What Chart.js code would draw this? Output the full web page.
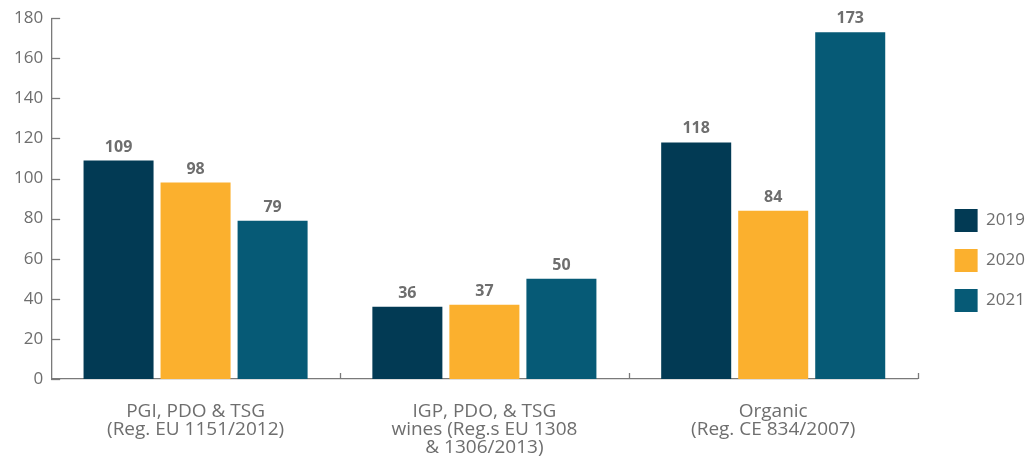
<!DOCTYPE html>
<html>
<head>
<meta charset="utf-8">
<script src="https://cdn.jsdelivr.net/npm/chart.js@4.4.0/dist/chart.umd.min.js"></script>
<style>
  html, body { margin: 0; padding: 0; background: #fff; }
  #wrap { width: 1027px; height: 457px; }
</style>
</head>
<body>
<div id="wrap"><canvas id="grafik"></canvas></div>
<script>
"use strict";

// data
var kategori = [
  ["PGI, PDO & TSG", "(Reg. EU 1151/2012)"],
  ["IGP, PDO, & TSG", "wines (Reg.s EU 1308", "& 1306/2013)"],
  ["Organic", "(Reg. CE 834/2007)"],
];
var tahun = ["2019", "2020", "2021"];
var nilai2019 = [109, 36, 118];
var nilai2020 = [98, 37, 84];
var nilai2021 = [79, 50, 173];
var yTicks = [0, 20, 40, 60, 80, 100, 120, 140, 160, 180];

var warna = ["#023a54", "#fbb02e", "#065a76"];
var abu = "#6e6e6e";
var hurufFont = "'Open Sans', 'Noto Sans', sans-serif";

// garis tick di dalam sumbu
var tickSumbu = {
  id: "tickSumbu",
  afterDatasetsDraw: function (chart) {
    var ctx = chart.ctx;
    var sx = chart.scales.x;
    var sy = chart.scales.y;
    ctx.save();
    ctx.strokeStyle = "#7a7a7a";
    ctx.lineWidth = 1.3;
    yTicks.forEach(function (v) {
      var py = Math.round(sy.getPixelForValue(v)) + 0.5;
      ctx.beginPath();
      ctx.moveTo(sx.left, py);
      ctx.lineTo(sx.left + 9, py);
      ctx.stroke();
    });
    for (var i = 1; i <= kategori.length; i++) {
      var px = Math.round(sx.getPixelForValue(i - 0.5)) + 0.5;
      ctx.beginPath();
      ctx.moveTo(px, sy.bottom);
      ctx.lineTo(px, sy.bottom - 6);
      ctx.stroke();
    }
    ctx.restore();
  },
};

// angka di atas batang
var labelNilai = {
  id: "labelNilai",
  afterDatasetsDraw: function (chart) {
    var ctx = chart.ctx;
    ctx.save();
    ctx.fillStyle = abu;
    ctx.font = "bold 16px " + hurufFont;
    ctx.textAlign = "center";
    ctx.textBaseline = "alphabetic";
    chart.data.datasets.forEach(function (ds, di) {
      chart.getDatasetMeta(di).data.forEach(function (bar, i) {
        ctx.fillText(ds.data[i], bar.x, bar.y - 9);
      });
    });
    ctx.restore();
  },
};

var grafik = document.getElementById("grafik").getContext("2d");

var diagramBatang = new Chart(grafik, {
  type: "bar",
  data: {
    labels: kategori,
    datasets: [
      { label: tahun[0], data: nilai2019, backgroundColor: warna[0] },
      { label: tahun[1], data: nilai2020, backgroundColor: warna[1] },
      { label: tahun[2], data: nilai2021, backgroundColor: warna[2] },
    ],
  },
  options: {
    responsive: true,
    maintainAspectRatio: false,
    animation: false,
    layout: { padding: { top: 7, left: 6, right: -8, bottom: 0 } },
    datasets: {
      bar: { categoryPercentage: 0.8, barPercentage: 0.909 },
    },
    scales: {
      x: {
        grid: { display: false, drawTicks: false },
        border: { display: true, color: "#7a7a7a", width: 1.3, dash: [4, 3] },
        ticks: {
          color: abu,
          font: { family: hurufFont, size: 19, lineHeight: 0.97 },
          padding: 23,
          maxRotation: 0,
          autoSkip: false,
        },
        afterFit: function (s) {
          s.height = 78;
        },
      },
      y: {
        min: 0,
        max: 180,
        grid: { display: false, drawTicks: false },
        border: { display: true, color: "#7a7a7a", width: 1.3, dash: [4, 3] },
        ticks: {
          stepSize: 20,
          color: abu,
          font: { family: hurufFont, size: 17 },
          padding: 8,
        },
      },
      jarak: {
        position: "right",
        grid: { display: false, drawTicks: false },
        border: { display: false },
        ticks: { display: false },
        afterFit: function (s) {
          s.width = 20;
        },
      },
    },
    plugins: {
      tooltip: { enabled: false },
      legend: {
        position: "right",
        align: "center",
        title: { display: true, text: " ", font: { size: 10 }, padding: { top: 45, bottom: 0 } },
        labels: {
          boxWidth: 23,
          boxHeight: 23,
          padding: 17,
          color: abu,
          font: { family: hurufFont, size: 17 },
        },
      },
    },
  },
  plugins: [tickSumbu, labelNilai],
});
</script>
</body>
</html>
